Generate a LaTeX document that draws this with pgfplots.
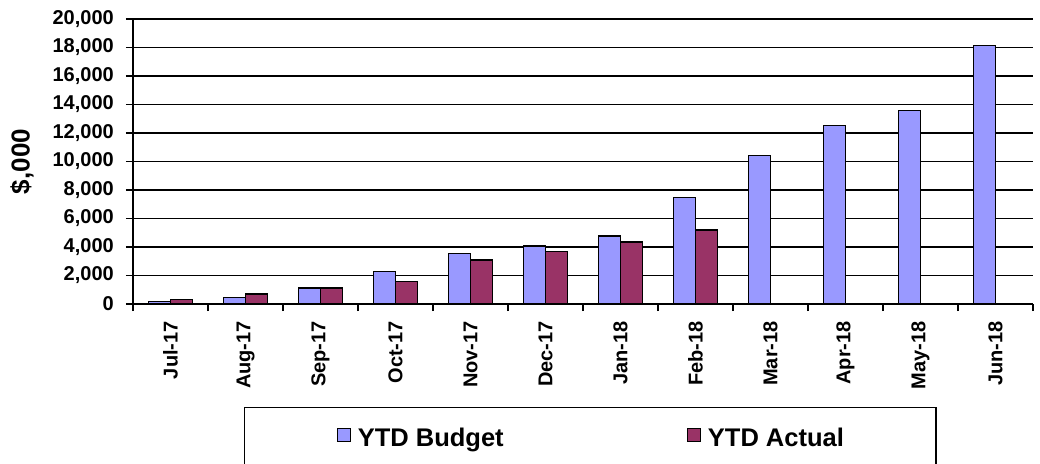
\documentclass[border=0pt]{standalone}
\usepackage{fontspec}
\setmainfont{Liberation Sans}
\usepackage{pgfplots}
\pgfplotsset{compat=1.18}
\definecolor{budget}{HTML}{9999FF}
\definecolor{actual}{HTML}{993366}
\begin{document}
\begin{tikzpicture}
\useasboundingbox (-133pt,-159pt) rectangle (907pt,304pt);
\begin{axis}[
  scale only axis,
  width=900pt, height=285pt,
  at={(0,0)}, anchor=south west,
  xmin=-0.5, xmax=11.5,
  ymin=0, ymax=20000,
  ytick={0,2000,...,20000},
  axis x line*=bottom, axis y line*=left,
  axis line style={line width=1.6pt, -},
  ybar=0pt, bar width=22pt,
  xtick={0,...,11},
  xticklabels={Jul-17,Aug-17,Sep-17,Oct-17,Nov-17,Dec-17,Jan-18,Feb-18,Mar-18,Apr-18,May-18,Jun-18},
  major x tick style={draw=none},
  extra x ticks={-0.5,0.5,...,11.5},
  extra x tick labels={},
  extra x tick style={major x tick style={draw=black, line width=1.3pt}},
  tick align=outside,
  major tick length=7pt,
  tick style={line width=1.3pt, black},
  ymajorgrids,
  major grid style={line width=1.5pt, black},
  /pgf/number format/assume math mode=true,
  /pgf/number format/fixed,
  /pgf/number format/1000 sep={,},
  scaled y ticks=false,
  tick label style={font=\fontsize{20}{24}\selectfont\bfseries},
  xticklabel style={rotate=90, anchor=east, inner sep=10pt},
  yticklabel style={inner sep=12pt},
  ylabel={\$,000},
  ylabel style={at={(axis description cs:-0.1233,0.5)}, anchor=center, font=\fontsize{26}{30}\selectfont\bfseries},
  legend columns=2,
  legend style={at={(axis description cs:0.1233,-0.3614)}, anchor=north west,
    draw=black, line width=1.3pt, inner xsep=92pt, inner ysep=20pt,
    font=\fontsize{25.5}{30}\selectfont\bfseries,
    nodes={inner sep=0pt},
    /tikz/every odd column/.append style={column sep=7pt},
    /tikz/every even column/.append style={column sep=183pt}},
  legend image code/.code={\draw[#1, draw=black, line width=1.2pt] (0pt,-4pt) rectangle (13pt,9pt);},
]
\addplot[fill=budget, draw=black, line width=1.3pt] coordinates {
 (0,160) (1,440) (2,1120) (3,2270) (4,3530) (5,4070) (6,4770) (7,7460) (8,10410) (9,12550) (10,13560) (11,18130)};
\addplot[fill=actual, draw=black, line width=1.3pt] coordinates {
 (0,330) (1,700) (2,1130) (3,1560) (4,3090) (5,3670) (6,4350) (7,5190)};
\legend{YTD Budget, YTD Actual}
\end{axis}
\end{tikzpicture}
\end{document}
